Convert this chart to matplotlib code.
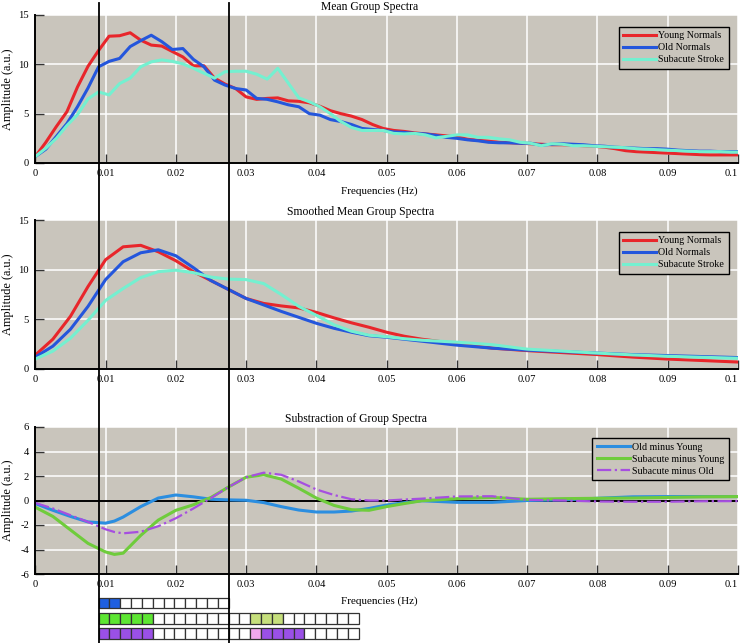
import numpy as np
import matplotlib
matplotlib.use('Agg')
import matplotlib.pyplot as plt
from matplotlib.patches import Rectangle

plt.rcParams['font.family'] = ['Liberation Serif', 'DejaVu Serif']
plt.rcParams['axes.unicode_minus'] = False

# ---- raw mean spectra (bin spacing 0.0015 Hz) ----
freq_raw = np.arange(68) * 0.0015
young_raw = [0.65, 2.1, 3.7, 5.2, 7.7, 9.8, 11.4, 12.85, 12.9, 13.2, 12.45, 11.95, 11.85, 11.3,
             10.75, 9.85, 9.85, 8.6, 8.0, 7.55, 6.7, 6.45, 6.55, 6.6, 6.3, 6.25, 6.1, 5.75, 5.3,
             5.0, 4.75, 4.4, 3.9, 3.5, 3.3, 3.2, 3.05, 2.95, 2.85, 2.75, 2.65, 2.4, 2.3, 2.2,
             2.1, 2.05, 2.0, 1.95, 1.9, 1.85, 1.85, 1.8, 1.75, 1.7, 1.6, 1.45, 1.25, 1.15, 1.1,
             1.05, 1.0, 0.95, 0.9, 0.85, 0.82, 0.82, 0.82, 0.82]
old_raw = [0.65, 1.4, 2.7, 4.0, 5.7, 7.6, 9.75, 10.3, 10.6, 11.8, 12.4, 12.95, 12.3, 11.5,
           11.6, 10.5, 9.75, 8.4, 7.9, 7.55, 7.4, 6.55, 6.45, 6.2, 5.9, 5.7, 5.0, 4.85, 4.4,
           4.2, 3.9, 3.5, 3.4, 3.3, 3.15, 3.1, 3.0, 2.95, 2.8, 2.6, 2.5, 2.35, 2.25, 2.1, 2.05,
           2.05, 2.0, 2.0, 1.8, 1.9, 1.95, 1.9, 1.85, 1.75, 1.7, 1.6, 1.55, 1.5, 1.45, 1.45,
           1.4, 1.3, 1.25, 1.2, 1.2, 1.15, 1.15, 1.15]
stroke_raw = [0.65, 1.5, 2.5, 3.8, 4.9, 6.5, 7.2, 6.9, 8.05, 8.6, 9.75, 10.25, 10.45, 10.3,
              10.05, 9.6, 9.1, 8.6, 9.25, 9.3, 9.3, 9.0, 8.5, 9.6, 8.1, 6.6, 6.2, 5.7, 5.0, 4.2,
              3.6, 3.3, 3.3, 3.3, 3.0, 2.95, 3.0, 2.85, 2.55, 2.7, 2.85, 2.85, 2.6, 2.6, 2.45,
              2.35, 2.1, 2.0, 1.75, 1.95, 1.9, 1.75, 1.75, 1.7, 1.65, 1.6, 1.55, 1.45, 1.4,
              1.35, 1.3, 1.25, 1.2, 1.15, 1.15, 1.15, 1.1, 1.1]

# ---- smoothed spectra ----
freq_s = [0, 0.0025, 0.005, 0.0075, 0.01, 0.0125, 0.015, 0.0175, 0.02, 0.0225, 0.025, 0.0275,
          0.03, 0.0325, 0.035, 0.0375, 0.04, 0.0425, 0.045, 0.0475, 0.05, 0.0525, 0.055, 0.06,
          0.065, 0.07, 0.075, 0.08, 0.085, 0.09, 0.095, 0.1]
young_s = [1.4, 3.0, 5.3, 8.3, 11.0, 12.3, 12.45, 11.8, 10.9, 9.8, 8.9, 8.0, 7.1, 6.6, 6.35,
           6.15, 5.7, 5.15, 4.65, 4.2, 3.7, 3.3, 3.0, 2.55, 2.1, 1.85, 1.65, 1.45, 1.2, 1.0,
           0.85, 0.7]
old_s = [1.2, 2.3, 4.0, 6.3, 9.0, 10.8, 11.7, 12.0, 11.4, 10.2, 8.9, 8.0, 7.1, 6.45, 5.8, 5.2,
         4.6, 4.1, 3.7, 3.35, 3.2, 3.0, 2.8, 2.4, 2.1, 1.9, 1.75, 1.6, 1.45, 1.35, 1.25, 1.15]
stroke_s = [1.0, 1.8, 3.1, 4.9, 6.9, 8.1, 9.2, 9.8, 9.95, 9.7, 9.25, 9.05, 9.0, 8.6, 7.5, 6.3,
            5.4, 4.45, 3.8, 3.4, 3.25, 3.05, 2.9, 2.7, 2.45, 2.0, 1.8, 1.6, 1.42, 1.28, 1.18,
            1.08]

# ---- differences ----
freq_d = [0, 0.0025, 0.005, 0.0075, 0.01, 0.01125, 0.0125, 0.015, 0.0175, 0.02, 0.0225, 0.025,
          0.0275, 0.03, 0.0325, 0.035, 0.0375, 0.04, 0.0425, 0.045, 0.0475, 0.05, 0.0525,
          0.055, 0.06, 0.065, 0.07, 0.075, 0.08, 0.085, 0.09, 0.095, 0.1]
old_young = [-0.25, -0.8, -1.3, -1.75, -1.85, -1.68, -1.35, -0.5, 0.2, 0.45, 0.3, 0.1, 0.05,
             0.02, -0.17, -0.5, -0.78, -0.94, -0.94, -0.86, -0.65, -0.37, -0.18, -0.02, -0.15,
             -0.15, 0.0, 0.05, 0.18, 0.3, 0.32, 0.32, 0.32]
stroke_young = [-0.55, -1.3, -2.4, -3.5, -4.2, -4.4, -4.3, -2.85, -1.6, -0.8, -0.35, 0.25, 1.1,
                1.9, 2.1, 1.75, 1.0, 0.2, -0.4, -0.75, -0.8, -0.5, -0.25, -0.02, 0.15, 0.25,
                0.1, 0.15, 0.18, 0.2, 0.25, 0.3, 0.32]
stroke_old = [-0.2, -0.65, -1.2, -1.75, -2.35, -2.57, -2.68, -2.55, -2.1, -1.45, -0.65, 0.2,
              1.1, 1.9, 2.27, 2.1, 1.55, 0.9, 0.45, 0.1, 0.0, 0.0, 0.08, 0.15, 0.33, 0.35, 0.05,
              0.0, -0.08, -0.1, -0.1, -0.06, -0.05]

# ---- significance squares ----
band = (0.009, 0.0275)
row1 = ['b'] * 2 + ['w'] * 10
row2 = ['g'] * 5 + ['w'] * 9 + ['lg'] * 3 + ['w'] * 7
row3 = ['p'] * 5 + ['w'] * 9 + ['pk'] + ['p'] * 4 + ['w'] * 5
sq_colors = {'b': '#1f5fe0', 'g': '#5de632', 'lg': '#c6df7c', 'p': '#9a50e6',
             'pk': '#f2a8ee', 'w': 'white'}

xtick_labels = ['0', '0.01', '0.02', '0.03', '0.04', '0.05', '0.06', '0.07', '0.08', '0.09', '0.1']

bg = '#c9c5bc'
W, H = 741, 643
fig = plt.figure(figsize=(W / 100, H / 100), dpi=100)

left = 35.3 / W
width = 702.7 / W


def make_ax(top_px, bot_px):
    ax = fig.add_axes([left, 1 - bot_px / H, width, (bot_px - top_px) / H])
    ax.set_facecolor(bg)
    for s in ['top', 'right']:
        ax.spines[s].set_visible(False)
    for s in ['left', 'bottom']:
        ax.spines[s].set_linewidth(1.4)
    ax.grid(True, color='white', lw=1.1)
    ax.set_axisbelow(True)
    ax.set_xlim(0, 0.1)
    ax.set_xticks(np.arange(0, 0.101, 0.01))
    ax.set_xticklabels(xtick_labels)
    ax.get_xticklabels()[-1].set_horizontalalignment('right')
    ax.tick_params(direction='in', length=6.5, width=1, labelsize=7.6, pad=4.5, color='#333333')
    ax.set_ylabel('Amplitude (a.u.)', fontsize=8.8)
    ax.yaxis.set_label_coords(-0.031, 0.5)
    return ax


legend_kw = dict(fontsize=7.2, handlelength=3.3, handletextpad=0.2, borderpad=0.45,
                 labelspacing=0.3, fancybox=False, edgecolor='black', facecolor=bg,
                 framealpha=1, loc='upper right', borderaxespad=0)

lw = 2.2
c_red, c_blue, c_cyan = '#e8262b', '#2456dc', '#74f0d0'

ax1 = make_ax(15, 163)
ax1.plot(freq_raw, young_raw, color=c_red, lw=lw, label='Young Normals')
ax1.plot(freq_raw, old_raw, color=c_blue, lw=lw, label='Old Normals')
ax1.plot(freq_raw, stroke_raw, color=c_cyan, lw=lw, label='Subacute Stroke')
ax1.set_ylim(0, 15)
ax1.set_yticks([0, 5, 10, 15])
ax1.set_title('Mean Group Spectra', fontsize=8.4, x=0.476, pad=3.5)
ax1.set_xlabel('Frequencies (Hz)', fontsize=8)
ax1.xaxis.set_label_coords(0.489, -0.155)
leg = ax1.legend(bbox_to_anchor=(0.987, 0.919), **legend_kw)
leg.get_frame().set_linewidth(1.0)

ax2 = make_ax(220, 369)
ax2.plot(freq_s, young_s, color=c_red, lw=lw, label='Young Normals')
ax2.plot(freq_s, old_s, color=c_blue, lw=lw, label='Old Normals')
ax2.plot(freq_s, stroke_s, color=c_cyan, lw=lw, label='Subacute Stroke')
ax2.set_ylim(0, 15)
ax2.set_yticks([0, 5, 10, 15])
ax2.set_title('Smoothed Mean Group Spectra', fontsize=8.4, x=0.463, pad=3.5)
leg = ax2.legend(bbox_to_anchor=(0.987, 0.921), **legend_kw)
leg.get_frame().set_linewidth(1.0)

ax3 = make_ax(427, 574)
ax3.axhline(0, color='black', lw=1.4, zorder=1.5)
ax3.plot(freq_d, old_young, color='#2b8ee0', lw=lw, label='Old minus Young')
ax3.plot(freq_d, stroke_young, color='#6fcc3c', lw=lw, label='Subacute minus Young')
ax3.plot(freq_d, stroke_old, color='#a64fe0', lw=1.6, ls='-.', label='Subacute minus Old')
ax3.set_ylim(-6, 6)
ax3.set_yticks([-6, -4, -2, 0, 2, 4, 6])
ax3.set_title('Substraction of Group Spectra', fontsize=8.4, x=0.456, pad=3.5)
ax3.set_xlabel('Frequencies (Hz)', fontsize=8)
ax3.xaxis.set_label_coords(0.489, -0.155)
leg = ax3.legend(bbox_to_anchor=(0.987, 0.925), **legend_kw)
leg.get_frame().set_linewidth(1.0)

# significance squares under the bottom panel
axs = fig.add_axes([left, 1 - 641.1 / H, width, 45.7 / H])
axs.set_xlim(0, 0.1)
axs.set_ylim(3, 0)
axs.axis('off')
sq_w = (band[1] - band[0]) / len(row1)
for r, row in enumerate([row1, row2, row3]):
    for i, c in enumerate(row):
        axs.add_patch(Rectangle((band[0] + i * sq_w, r + 0.15), sq_w, 0.7,
                                facecolor=sq_colors[c], edgecolor='#333333', lw=0.9))

# band boundaries through the whole figure
axo = fig.add_axes([left, 0, width, 1])
axo.set_xlim(0, 0.1)
axo.set_ylim(0, 1)
axo.axis('off')
axo.patch.set_alpha(0)
for f in band:
    axo.plot([f, f], [0, 0.995], color='black', lw=1.3)

fig.savefig('out.png', dpi=100)
